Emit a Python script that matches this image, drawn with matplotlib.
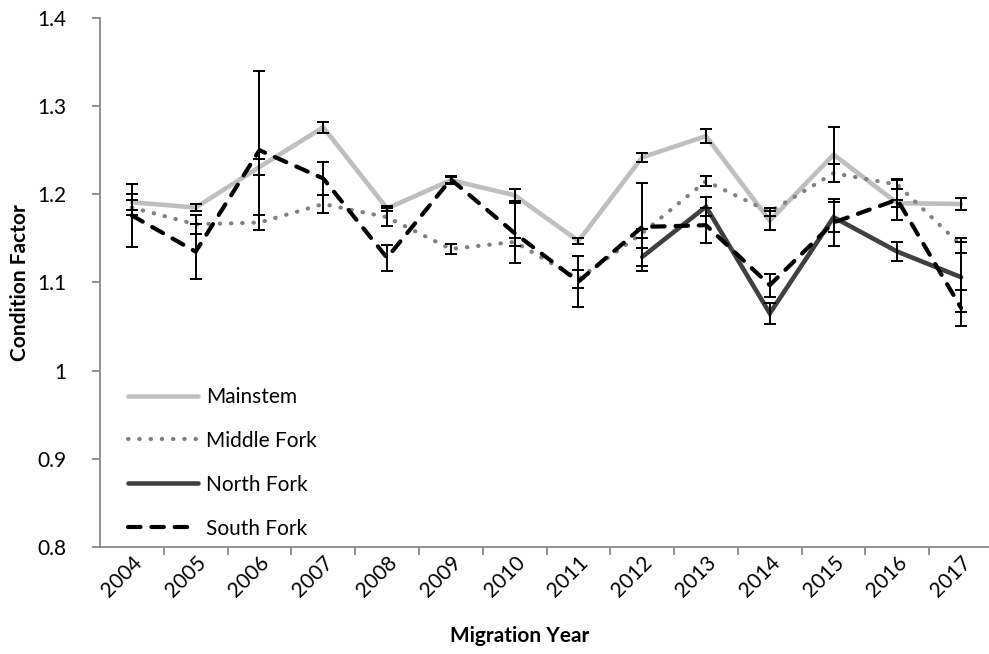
import numpy as np
import matplotlib
matplotlib.use("Agg")
import matplotlib.pyplot as plt
from matplotlib.ticker import FixedLocator, FuncFormatter

plt.rcParams['font.family'] = ['Lato', 'DejaVu Sans']

years = ['2004', '2005', '2006', '2007', '2008', '2009', '2010',
         '2011', '2012', '2013', '2014', '2015', '2016', '2017']

mainstem = [1.191, 1.185, 1.231, 1.276, 1.184, 1.216, 1.199,
            1.147, 1.242, 1.266, 1.170, 1.245, 1.190, 1.189]
mainstem_err = [0.009, 0.004, 0.009, 0.006, 0.003, 0.004, 0.007,
                0.003, 0.005, 0.008, 0.011, 0.031, 0.004, 0.007]

middle = [1.185, 1.166, 1.168, 1.189, 1.174, 1.138, 1.146,
          1.104, 1.156, 1.215, 1.180, 1.224, 1.211, 1.142]
middle_err = [0.008, 0.011, 0.008, 0.010, 0.010, 0.006, 0.005,
              0.010, 0.005, 0.006, 0.005, 0.010, 0.005, 0.008]

north = [np.nan] * 8 + [1.129, 1.186, 1.065, 1.174, 1.135, 1.106]
north_err = [np.nan] * 8 + [0.010, 0.011, 0.012, 0.017, 0.011, 0.040]

south = [1.176, 1.135, 1.250, 1.218, 1.128, 1.217, 1.156,
         1.101, 1.163, 1.165, 1.097, 1.168, 1.194, 1.071]
south_err = [0.036, 0.031, 0.090, 0.019, 0.015, 0.004, 0.034,
             0.029, 0.050, 0.020, 0.013, 0.027, 0.023, 0.020]

x = np.arange(len(years))

fig = plt.figure(figsize=(9.89, 6.54), dpi=100)
ax = fig.add_axes([0.1011, 0.1636, 0.903, 0.8089])

series = [
    ('Mainstem', mainstem, mainstem_err, '#bfbfbf', '-', 3.3),
    ('Middle Fork', middle, middle_err, '#808080', (0, (0.1, 2.6)), 3.0),
    ('North Fork', north, north_err, '#404040', '-', 3.3),
    ('South Fork', south, south_err, '#000000', (0, (3.0, 2.6)), 3.0),
]

for name, vals, err, col, ls, lw in series:
    ax.errorbar(x, vals, yerr=err, fmt='none', ecolor='black',
                elinewidth=1.4, capsize=4.5, capthick=1.4, zorder=3)
    ax.plot(x, vals, color=col, linestyle=ls, linewidth=lw,
            solid_capstyle='round', dash_capstyle='round',
            solid_joinstyle='miter', label=name, zorder=2)

ax.set_xlim(-0.5, len(years) - 0.5)
ax.set_ylim(0.8, 1.4)
ax.set_yticks(np.arange(0.8, 1.41, 0.1))
ax.yaxis.set_major_formatter(FuncFormatter(lambda v, p: '%g' % round(v, 1)))

ax.set_xticks(x)
ax.set_xticklabels(years, rotation=45, ha='right', va='top',
                   rotation_mode='anchor')
ax.xaxis.set_minor_locator(FixedLocator(x[:-1] + 0.5))
ax.tick_params(axis='x', which='major', length=0, pad=4, labelsize=15)
ax.tick_params(axis='x', which='minor', length=6, color='#898989', width=1.3)
ax.tick_params(axis='y', length=6, color='#898989', width=1.3, labelsize=15, pad=18)

for s in ['top', 'right']:
    ax.spines[s].set_visible(False)
for s in ['left', 'bottom']:
    ax.spines[s].set_color('#898989')
    ax.spines[s].set_linewidth(1.3)

ax.set_xlabel('Migration Year', fontsize=15, fontweight='bold')
ax.set_ylabel('Condition Factor', fontsize=15, fontweight='bold')
ax.xaxis.set_label_coords(0.47, -0.15)
ax.yaxis.set_label_coords(-0.078, 0.5)

ax.legend(loc='lower left', bbox_to_anchor=(0.022, 0.0), frameon=False,
          fontsize=15, handlelength=3.35, labelspacing=1.15, handletextpad=0.4,
          borderaxespad=0)

fig.savefig('out.png', dpi=100)
